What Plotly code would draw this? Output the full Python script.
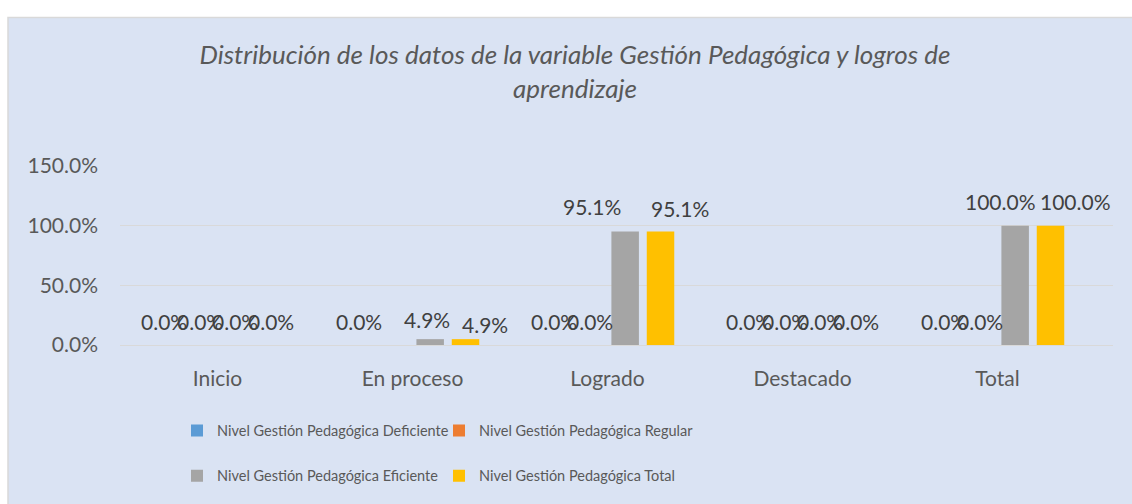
import plotly.graph_objects as go

# ---- data ----
categories = ["Inicio", "En proceso", "Logrado", "Destacado", "Total"]
series_names = [
    "Nivel Gestión Pedagógica Deficiente",
    "Nivel Gestión Pedagógica Regular",
    "Nivel Gestión Pedagógica Eficiente",
    "Nivel Gestión Pedagógica Total",
]
deficiente = [0.0, 0.0, 0.0, 0.0, 0.0]
regular = [0.0, 0.0, 0.0, 0.0, 0.0]
eficiente = [0.0, 0.049, 0.951, 0.0, 1.0]
total = [0.0, 0.049, 0.951, 0.0, 1.0]
y_ticks = [0.0, 0.5, 1.0, 1.5]

# ---- styling ----
colors = ["#5B9BD5", "#ED7D31", "#A5A5A5", "#FFC000"]
legends = ["legend", "legend", "legend2", "legend2"]
# which data labels are visible (Excel hid one overlapping label)
label_show = [
    [True, True, True, True, True],
    [True, False, True, True, True],
    [True, True, True, True, True],
    [True, True, True, True, True],
]
# manual pixel nudges of data labels (as moved in the original)
label_dx = [
    [0, 0, 0, 0, 0],
    [0, 0, 0, 0, 0],
    [0, -3, -33, 0, -15],
    [0, 19, 19, 0, 25],
]
label_dy = [
    [0, 0, 0, 0, 0],
    [0, 0, 0, 0, 0],
    [0, -4, 1, 0, 0],
    [0, -9, -1, 0, 0],
]

FONT = "Lato, 'Open Sans', sans-serif"
AXIS_COLOR = "#595959"
LABEL_COLOR = "#404040"
BG = "#DAE3F3"
GRID = "#D9D9D9"

W, H = 1132, 504
ML, MR, MT, MB = 120, 19, 166, 156
PW, PH = W - ML - MR, H - MT - MB

BARGAP = 0.275
all_values = [deficiente, regular, eficiente, total]

fig = go.Figure()
for name, vals, col, leg in zip(series_names, all_values, colors, legends):
    fig.add_trace(go.Bar(
        x=categories, y=vals, name=name, marker_color=col,
        marker_line_width=0, legend=leg,
    ))

slot = (1 - BARGAP) / len(all_values)
annotations = []
for i, vals in enumerate(all_values):
    for j, v in enumerate(vals):
        if not label_show[i][j]:
            continue
        annotations.append(dict(
            x=j + (i - (len(all_values) - 1) / 2) * slot, y=v,
            xref="x", yref="y",
            text=f"{v * 100:.1f}%", showarrow=False,
            xanchor="center", yanchor="middle",
            xshift=label_dx[i][j], yshift=24 + label_dy[i][j],
            font=dict(family=FONT, size=21, color=LABEL_COLOR),
        ))


def px_to_paper_x(px):
    return (px - ML) / PW


def px_to_paper_y(py):
    return (H - MB - py) / PH


fig.update_layout(
    width=W, height=H,
    margin=dict(l=ML, r=MR, t=MT, b=MB),
    paper_bgcolor="white",
    plot_bgcolor="rgba(0,0,0,0)",
    font=dict(family=FONT, color=AXIS_COLOR),
    barmode="group",
    bargap=BARGAP,
    bargroupgap=0.222,
    title=dict(
        text="Distribución de los datos de la variable Gestión Pedagógica y logros de<br>aprendizaje",
        x=575 / W, xanchor="center", xref="container",
        y=1 - 64 / H, yanchor="top", yref="container",
        font=dict(family=FONT, size=26, color=AXIS_COLOR, style="italic"),
    ),
    xaxis=dict(
        showgrid=False, showline=False, zeroline=False, ticks="",
        tickfont=dict(family=FONT, size=21, color=AXIS_COLOR),
        ticklabelstandoff=19,
    ),
    yaxis=dict(
        range=[0, 1.5], tickvals=y_ticks, tickformat=".1%",
        showgrid=True, gridcolor=GRID, gridwidth=1,
        zeroline=True, zerolinecolor=GRID, zerolinewidth=1,
        showline=False, ticks="",
        tickfont=dict(family=FONT, size=21, color=AXIS_COLOR),
        ticklabelstandoff=21,
    ),
    legend=dict(
        orientation="h", x=px_to_paper_x(177), xanchor="left",
        y=px_to_paper_y(435), yanchor="middle",
        bgcolor="rgba(0,0,0,0)", entrywidthmode="pixels", entrywidth=217,
        font=dict(family=FONT, size=14.5, color=AXIS_COLOR),
        traceorder="normal",
    ),
    legend2=dict(
        orientation="h", x=px_to_paper_x(177), xanchor="left",
        y=px_to_paper_y(481), yanchor="middle",
        bgcolor="rgba(0,0,0,0)", entrywidthmode="pixels", entrywidth=217,
        font=dict(family=FONT, size=14.5, color=AXIS_COLOR),
        traceorder="normal",
    ),
    annotations=annotations,
    shapes=[dict(
        type="rect", xref="paper", yref="paper", layer="below",
        x0=px_to_paper_x(8), x1=px_to_paper_x(W + 30),
        y0=px_to_paper_y(H + 30), y1=px_to_paper_y(15),
        fillcolor=BG, line=dict(color=GRID, width=1.5),
    )],
)

fig.write_html(
    "out.html",
    config={"displayModeBar": False},
    post_script="document.body.style.margin='0px';document.body.style.overflow='hidden';",
)
